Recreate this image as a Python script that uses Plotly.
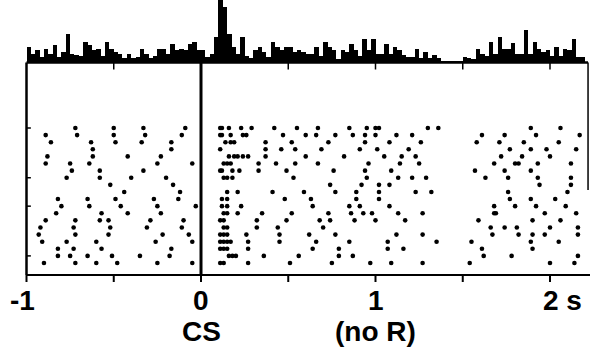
import plotly.graph_objects as go

# ---------------- data ----------------
# peri-stimulus histogram: 0.025 s bins starting at -1 s (arbitrary count units)
hist_start = -1.0
hist_width = 0.025
hist_counts = [
    15, 8, 12, 5, 13, 8, 17, 5, 10, 28,
    8, 7, 6, 20, 17, 12, 13, 6, 20, 13,
    10, 8, 4, 8, 4, 5, 13, 8, 4, 6,
    13, 13, 8, 18, 12, 13, 12, 18, 20, 12,
    12, 5, 8, 25, 62, 55, 28, 15, 8, 25,
    6, 4, 12, 15, 10, 5, 20, 15, 12, 15,
    15, 10, 12, 10, 8, 8, 15, 6, 20, 15,
    12, 3, 12, 10, 18, 12, 6, 23, 12, 23,
    8, 8, 18, 8, 15, 12, 7, 5, 5, 13,
    4, 10, 4, 7, 4, 1, 1, 1, 1, 1,
    5, 4, 3, 13, 8, 6, 20, 8, 25, 13,
    13, 19, 8, 8, 32, 8, 20, 13, 10, 12,
    6, 15, 6, 13, 12, 23, 5, 5,
]

# raster: spike times (s) for trials 1..20 (top to bottom)
trials = [
    [-0.72, -0.50, -0.33, -0.09, 0.11, 0.12, 0.16, 0.23, 0.29, 0.42, 0.55, 0.67, 0.85, 0.95, 1.00, 1.02, 1.30, 1.36, 1.89, 2.06],
    [-0.89, -0.71, -0.50, -0.32, -0.11, 0.11, 0.12, 0.17, 0.24, 0.26, 0.47, 0.60, 0.66, 0.77, 0.87, 0.94, 1.00, 1.12, 1.21, 1.61, 1.74, 1.92, 2.17],
    [-0.86, -0.63, -0.49, -0.34, -0.17, 0.14, 0.17, 0.19, 0.37, 0.52, 0.73, 0.94, 1.08, 1.26, 1.58, 1.71, 1.85, 2.05],
    [-0.62, -0.17, 0.11, 0.37, 0.46, 0.54, 0.69, 0.91, 1.01, 1.19, 1.77, 1.89, 1.98, 2.15],
    [-0.88, -0.62, -0.42, -0.23, 0.16, 0.19, 0.21, 0.24, 0.27, 0.37, 0.60, 0.82, 1.05, 1.15, 1.23, 1.72, 1.84, 2.00],
    [-0.89, -0.75, -0.64, -0.25, -0.05, 0.13, 0.15, 0.17, 0.33, 0.43, 0.54, 0.67, 0.96, 1.14, 1.25, 1.68, 1.80, 1.82, 1.93, 2.12],
    [-0.74, -0.58, -0.33, 0.11, 0.12, 0.18, 0.22, 0.33, 0.49, 0.76, 0.94, 1.09, 1.57, 1.74, 1.89],
    [-0.77, -0.58, -0.40, -0.20, 0.13, 0.15, 0.18, 0.53, 0.95, 1.13, 1.21, 1.29, 1.63, 1.76, 1.93, 2.12],
    [-0.52, -0.16, 0.74, 0.92, 1.02, 1.08, 1.94, 2.12],
    [-0.44, -0.12, 0.15, 0.21, 0.41, 0.59, 0.77, 0.89, 1.02, 1.23, 1.32, 1.76, 2.10],
    [-0.82, -0.65, -0.49, -0.27, -0.13, 0.12, 0.15, 0.48, 0.63, 0.89, 1.02, 1.77, 1.89, 2.03],
    [-0.80, -0.64, -0.46, -0.25, -0.03, 0.12, 0.15, 0.23, 0.64, 0.85, 0.91, 1.08, 1.68, 1.80, 1.92, 2.09],
    [-0.83, -0.57, -0.42, -0.23, 0.13, 0.15, 0.21, 0.35, 0.52, 0.73, 0.86, 0.93, 0.98, 1.13, 1.27, 1.68, 1.69, 1.97, 2.15],
    [-0.89, -0.72, -0.58, -0.53, -0.29, -0.10, 0.11, 0.13, 0.32, 0.49, 0.68, 0.74, 0.88, 1.00, 1.17, 1.59, 1.90, 2.06],
    [-0.92, -0.73, -0.52, -0.31, -0.11, 0.13, 0.15, 0.32, 0.44, 0.70, 1.66, 1.74, 1.81, 2.00, 2.16],
    [-0.93, -0.72, -0.53, -0.22, -0.07, 0.11, 0.13, 0.15, 0.26, 0.45, 0.62, 0.77, 1.12, 1.27, 1.67, 1.82, 1.90, 1.97, 2.16],
    [-0.91, -0.77, -0.60, -0.26, -0.05, 0.11, 0.13, 0.15, 0.17, 0.27, 0.45, 0.66, 0.85, 1.07, 1.35, 1.55, 1.89, 2.05],
    [-0.82, -0.73, -0.57, -0.17, 0.11, 0.13, 0.15, 0.27, 0.64, 0.79, 1.07, 1.16, 1.61, 1.90],
    [-0.82, -0.75, -0.65, -0.51, -0.35, -0.18, 0.16, 0.18, 0.20, 0.36, 0.56, 0.79, 0.87, 1.62, 1.78, 2.16],
    [-0.90, -0.72, -0.60, -0.48, -0.25, -0.05, 0.11, 0.13, 0.27, 0.51, 0.75, 0.97, 1.09, 1.27, 1.54, 2.00, 2.14],
]

tick_values = [-1, 0, 1, 2]
tick_labels = ["-1", "0", "1", "2 s"]
minor_ticks = [-1, -0.5, 0, 0.5, 1, 1.5, 2]
hist_ticks = [-0.5, 0.5, 1, 1.5, 2]
event_labels = [(0, "CS"), (1, "(no R)")]
t_end = 2.218

# ---------------- layout geometry ----------------
W, H = 590, 348
PX_PER_S = 174.5
X0_PX = 201.0  # pixel of t = 0
x_range = [(0 - X0_PX) / PX_PER_S, (W - X0_PX) / PX_PER_S]

def py(px):
    return 1 - px / H

BASE_PX = 62.5     # histogram baseline
AXIS_PX = 275.0    # bottom axis
ROW0_PX = 128.0
ROW_DY = 7.105

hist_x = [hist_start + hist_width * (i + 0.5) for i in range(len(hist_counts))]

xs, ys = [], []
for k, tr in enumerate(trials, start=1):
    xs += tr
    ys += [k] * len(tr)

fig = go.Figure()
fig.add_trace(go.Bar(x=hist_x, y=hist_counts, width=hist_width, xaxis="x", yaxis="y2",
                     marker=dict(color="black", line=dict(width=0)), showlegend=False))
fig.add_trace(go.Scatter(x=xs, y=ys, mode="markers", xaxis="x", yaxis="y",
                         marker=dict(color="black", size=4.6, line=dict(width=0)),
                         showlegend=False))

# raster y range: trial 1 at ROW0_PX
y_top = 1 - (ROW0_PX - BASE_PX) / ROW_DY
y_bot = 1 + (H - ROW0_PX) / ROW_DY

shapes = []
def vline(x, p0, p1, w):
    shapes.append(dict(type="line", xref="x", yref="paper", x0=x, x1=x, y0=py(p0), y1=py(p1),
                       line=dict(color="black", width=w)))
def hline(xa, xb, p, w):
    shapes.append(dict(type="line", xref="x", yref="paper", x0=xa, x1=xb, y0=py(p), y1=py(p),
                       line=dict(color="black", width=w)))

hline(-1.0, t_end, BASE_PX, 2.5)
vline(-1.0, BASE_PX, AXIS_PX, 2.5)
vline(0.0, BASE_PX, AXIS_PX, 3)
vline(t_end, BASE_PX, 190, 1.5)
hline(-1.0, x_range[1], AXIS_PX, 2.2)
for t in minor_ticks:
    vline(t, AXIS_PX, AXIS_PX + 7, 2)
for t in hist_ticks:
    vline(t, BASE_PX, BASE_PX + 7, 1.5)
for k in [1, 8, 12, 19]:
    p = ROW0_PX + ROW_DY * (k - 1)
    shapes.append(dict(type="line", xref="x", yref="paper", x0=-1.0, x1=-0.975,
                       y0=py(p), y1=py(p), line=dict(color="black", width=1.5)))

font = dict(family="Liberation Sans, Arial, sans-serif", size=28, color="black")
annotations = []
for v, lab in zip(tick_values, tick_labels):
    if lab.endswith(" s"):
        annotations.append(dict(x=v, y=py(300), xref="x", yref="paper", text="<b>" + lab + "</b>",
                                showarrow=False, xanchor="left", yanchor="middle", xshift=-9, font=font))
    else:
        annotations.append(dict(x=v, y=py(300), xref="x", yref="paper", text="<b>" + lab + "</b>",
                                showarrow=False, xanchor="center", yanchor="middle",
                                xshift=-4 if v == -1 else 0, font=font))
for v, lab in event_labels:
    annotations.append(dict(x=v, y=py(331), xref="x", yref="paper", text="<b>" + lab + "</b>",
                            showarrow=False, xanchor="center", yanchor="middle", font=font))

fig.update_layout(
    width=W, height=H, margin=dict(l=0, r=0, t=0, b=0),
    paper_bgcolor="white", plot_bgcolor="white",
    bargap=0,
    xaxis=dict(range=x_range, visible=False, fixedrange=True),
    yaxis=dict(domain=[0, py(BASE_PX)], range=[y_bot, y_top], visible=False),
    yaxis2=dict(domain=[py(BASE_PX), 1], range=[0, 62], visible=False),
    shapes=shapes, annotations=annotations,
)

fig.write_html("out.html")
